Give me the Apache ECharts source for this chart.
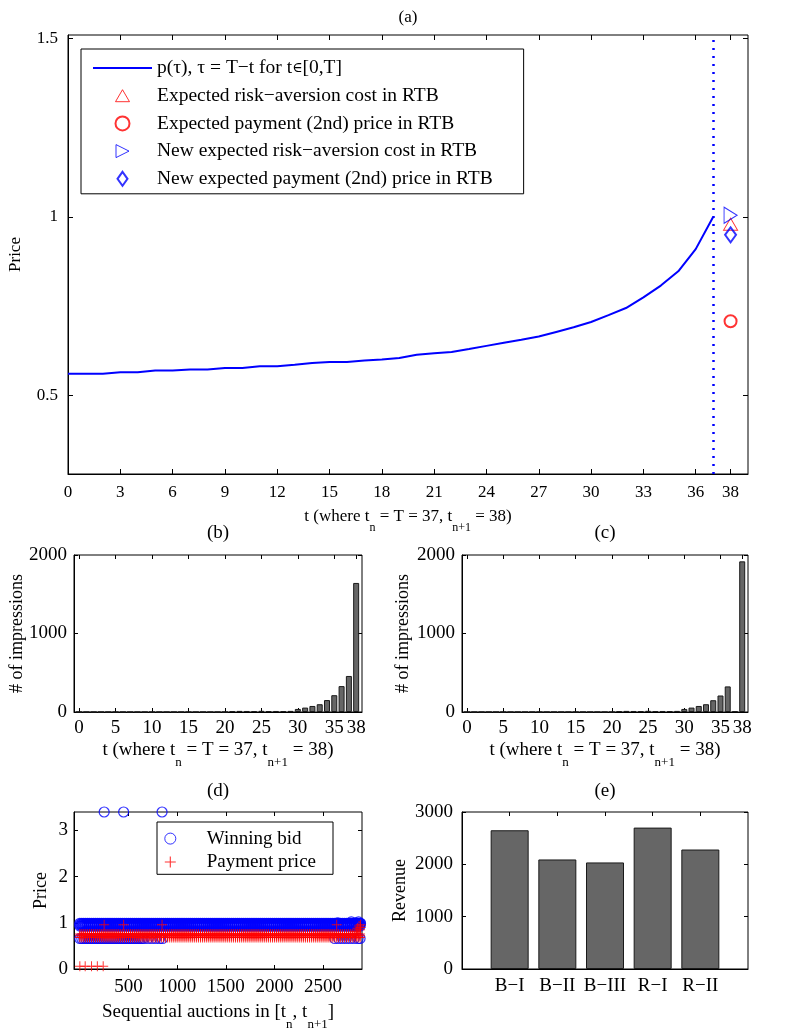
<!DOCTYPE html>
<html>
<head>
<meta charset="utf-8">
<title>RTB price, impressions and revenue</title>
<script src="https://cdn.jsdelivr.net/npm/echarts@6/dist/echarts.min.js"></script>
<style>
    html, body { margin: 0; padding: 0; background: #fff; }
    #main { width: 789px; height: 1029px; }
</style>
</head>
<body>
<div id="main"></div>
<script>
// ---- (a) price curve p(tau) and expected prices at t = 38 ----
var tCurve = [0, 1, 2, 3, 4, 5, 6, 7, 8, 9, 10, 11, 12, 13, 14, 15, 16, 17, 18,
    19, 20, 21, 22, 23, 24, 25, 26, 27, 28, 29, 30, 31, 32, 33, 34, 35, 36, 37];
var priceCurve = [0.561, 0.561, 0.561, 0.565, 0.565, 0.570, 0.570, 0.573, 0.573, 0.577,
    0.577, 0.582, 0.582, 0.586, 0.591, 0.594, 0.594, 0.598, 0.601, 0.605,
    0.614, 0.618, 0.622, 0.630, 0.639, 0.648, 0.656, 0.665, 0.678, 0.691,
    0.706, 0.725, 0.745, 0.775, 0.808, 0.848, 0.910, 1.000];
var tNext = 38;
var tLast = 37;
var riskCost = 0.98;
var paymentPrice = 0.708;
var newRiskCost = 1.005;
var newPaymentPrice = 0.95;
var ticksAx = [0, 3, 6, 9, 12, 15, 18, 21, 24, 27, 30, 33, 36, 38];
var ticksAy = [0.5, 1, 1.5];

// ---- (b), (c) number of impressions per t ----
var tBins = [0, 1, 2, 3, 4, 5, 6, 7, 8, 9, 10, 11, 12, 13, 14, 15, 16, 17, 18, 19,
    20, 21, 22, 23, 24, 25, 26, 27, 28, 29, 30, 31, 32, 33, 34, 35, 36, 37, 38];
var impressionsB = [0, 0, 0, 0, 0, 0, 0, 0, 0, 0, 0, 0, 0, 0, 0, 0, 0, 0, 0, 0, 0,
    12, 14, 13, 12, 15, 12, 13, 12, 14, 39, 56, 77, 99, 152, 214, 330, 459, 1644];
var impressionsC = [0, 0, 0, 0, 0, 0, 0, 0, 0, 0, 0, 0, 0, 0, 0, 0, 0, 0, 0, 0, 0,
    12, 14, 13, 12, 15, 12, 13, 12, 14, 39, 56, 77, 99, 150, 210, 326, 10, 1919];
var ticksBx = [0, 5, 10, 15, 20, 25, 30, 35, 38];
var ticksBy = [0, 1000, 2000];

// ---- (d) sequential auctions (dense band sampled along the x axis) ----
var auctionX = [0, 20, 40, 60, 80, 100, 120, 140, 160, 180, 200, 220, 240, 260, 280,
    300, 320, 340, 360, 380, 400, 420, 440, 460, 480, 500, 520, 540, 560, 580,
    600, 620, 640, 660, 680, 700, 720, 740, 760, 780, 800, 820, 840, 860, 880,
    900, 920, 940, 960, 980, 1000, 1020, 1040, 1060, 1080, 1100, 1120, 1140, 1160, 1180,
    1200, 1220, 1240, 1260, 1280, 1300, 1320, 1340, 1360, 1380, 1400, 1420, 1440, 1460, 1480,
    1500, 1520, 1540, 1560, 1580, 1600, 1620, 1640, 1660, 1680, 1700, 1720, 1740, 1760, 1780,
    1800, 1820, 1840, 1860, 1880, 1900, 1920, 1940, 1960, 1980, 2000, 2020, 2040, 2060, 2080,
    2100, 2120, 2140, 2160, 2180, 2200, 2220, 2240, 2260, 2280, 2300, 2320, 2340, 2360, 2380,
    2400, 2420, 2440, 2460, 2480, 2500, 2520, 2540, 2560, 2580, 2600, 2620, 2640, 2660, 2680,
    2700, 2720, 2740, 2760, 2780, 2800, 2820, 2840, 2860, 2880];
var bidLevels = [0.93, 0.96, 0.99];
var bidLowX = [0, 20, 40, 60, 80, 100, 120, 140, 160, 180, 200, 220, 240, 260, 280, 300,
    320, 340, 360, 380, 400, 420, 440, 460, 480, 500, 520, 540, 560, 580, 600, 620, 640,
    660, 700, 740, 780, 820, 850, 2620, 2660, 2700, 2740, 2780, 2820, 2860, 2880];
var bidLow = 0.66;
var bidTopX = [250, 450, 845];
var bidTop = 3.4;
var bidRight = [[2650, 1.0], [2790, 1.02], [2835, 1.0], [2865, 1.02], [2885, 0.99]];
var payLevels = [0.68, 0.72, 0.76];
var payHighX = [250, 450, 845, 2640, 2885];
var payHigh = 0.96;
var payLowX = [0, 55, 120, 180, 240];
var payLow = 0.06;
var payRight = [[2840, 0.82], [2855, 0.88], [2870, 0.93], [2880, 0.85], [2885, 0.9]];
var ticksDx = [500, 1000, 1500, 2000, 2500];
var ticksDy = [0, 1, 2, 3];

// ---- (e) revenue ----
var revenueNames = ['B\u2212I', 'B\u2212II', 'B\u2212III', 'R\u2212I', 'R\u2212II'];
var revenue = [2651, 2093, 2036, 2702, 2283];
var ticksEx = [1, 2, 3, 4, 5];
var ticksEy = [0, 1000, 2000, 3000];

var FONT = 'Liberation Serif';
var L1 = 'p(\u03c4), \u03c4 = T\u2212t for t\u2208[0,T]';
var L2 = 'Expected risk\u2212aversion cost in RTB';
var L3 = 'Expected payment (2nd) price in RTB';
var L4 = 'New expected risk\u2212aversion cost in RTB';
var L5 = 'New expected payment (2nd) price in RTB';

function pairs(xs, ys) {
    return xs.map(function (x, i) { return [x, ys[i]]; });
}
function row(xs, y) {
    return xs.map(function (x) { return [x, y]; });
}
function plain(v) { return String(v); }

function nameStyle(size, sub) {
    var s = { fontFamily: FONT, fontSize: size, color: '#000' };
    if (sub) {
        var ss = Math.round(size * 0.7);
        s.lineHeight = size * 2;
        s.rich = { s: { fontFamily: FONT, fontSize: ss, lineHeight: ss, verticalAlign: 'bottom', color: '#000' } };
    }
    return s;
}

// one value axis; bottom/left carry labels, top/right only ticks (box like matlab)
function axis(gi, pos, min, max, ticks, o) {
    o = o || {};
    var main = pos === 'bottom' || pos === 'left';
    var a = {
        gridIndex: gi, type: 'value', position: pos, min: min, max: max,
        axisLine: { show: main, onZero: false, lineStyle: { color: '#000', width: 1 } },
        axisTick: { show: true, inside: true, length: o.tick || 4, customValues: ticks, lineStyle: { color: '#000' } },
        axisLabel: {
            show: main, customValues: ticks, margin: o.margin || 8, color: '#000',
            fontFamily: FONT, fontSize: o.fontSize || 19, formatter: o.formatter || plain
        },
        splitLine: { show: false }
    };
    if (o.name) {
        a.name = o.name;
        a.nameLocation = 'middle';
        a.nameGap = o.nameGap;
        a.nameMoveOverlap = false;
        a.nameTextStyle = nameStyle(o.nameSize || 19, o.sub);
    }
    return a;
}

var xAxes = [
    axis(0, 'bottom', 0, 39, ticksAx, { fontSize: 17, margin: 10, tick: 5, name: 't (where t{s|n} = T = 37, t{s|n+1} = 38)', nameGap: 26, nameSize: 17, sub: true }),
    axis(0, 'top', 0, 39, ticksAx, { tick: 5, name: '(a)', nameGap: 9, nameSize: 17 }),
    axis(1, 'bottom', -0.7, 38.8, ticksBx, { margin: 7, name: 't (where t{s|n} = T = 37, t{s|n+1} = 38)', nameGap: 19, sub: true }),
    axis(1, 'top', -0.7, 38.8, ticksBx, { name: '(b)', nameGap: 12 }),
    axis(2, 'bottom', -0.7, 38.8, ticksBx, { margin: 7, name: 't (where t{s|n} = T = 37, t{s|n+1} = 38)', nameGap: 19, sub: true }),
    axis(2, 'top', -0.7, 38.8, ticksBx, { name: '(c)', nameGap: 12 }),
    axis(3, 'bottom', -60, 2900, ticksDx, { margin: 9, name: 'Sequential auctions in [t{s|n}, t{s|n+1}]', nameGap: 24, sub: true }),
    axis(3, 'top', -60, 2900, ticksDx, { name: '(d)', nameGap: 11 }),
    axis(4, 'bottom', 0, 6, ticksEx, { margin: 8, formatter: function (v) { return revenueNames[Math.round(v) - 1]; } }),
    axis(4, 'top', 0, 6, ticksEx, { name: '(e)', nameGap: 11 })
];
var yAxes = [
    axis(0, 'left', 0.28, 1.51, ticksAy, { fontSize: 17, margin: 10, tick: 5, name: 'Price', nameGap: 44, nameSize: 17 }),
    axis(0, 'right', 0.28, 1.51, ticksAy, { tick: 5 }),
    axis(1, 'left', 0, 2000, ticksBy, { margin: 7, name: '# of impressions', nameGap: 48, nameSize: 18 }),
    axis(1, 'right', 0, 2000, ticksBy, {}),
    axis(2, 'left', 0, 2000, ticksBy, { margin: 7, name: '# of impressions', nameGap: 50, nameSize: 18 }),
    axis(2, 'right', 0, 2000, ticksBy, {}),
    axis(3, 'left', 0, 3.4, ticksDy, { margin: 6, name: 'Price', nameGap: 24, nameSize: 18 }),
    axis(3, 'right', 0, 3.4, ticksDy, {}),
    axis(4, 'left', 0, 3000, ticksEy, { margin: 9, name: 'Revenue', nameGap: 53, nameSize: 18 }),
    axis(4, 'right', 0, 3000, ticksEy, {})
];

// fixed plot boxes; outerBoundsMode none keeps names near the page edge from shrinking them
var box = { show: true, borderColor: '#000', borderWidth: 1, backgroundColor: 'transparent', outerBoundsMode: 'none', containLabel: false };
var grids = [
    Object.assign({ left: 68, top: 35, width: 680, height: 439 }, box),
    Object.assign({ left: 74, top: 555, width: 288, height: 157 }, box),
    Object.assign({ left: 462, top: 555, width: 286, height: 157 }, box),
    Object.assign({ left: 74, top: 812, width: 288, height: 157 }, box),
    Object.assign({ left: 462, top: 812, width: 286, height: 157 }, box)
];

var crossPath = 'path://M4.5,0H5.5V10H4.5ZM0,4.5H10V5.5H0Z';
// legend icons drawn inside a fixed 59x14 box (the two moves pin the box size)
var pin = 'M0,0M59,14';
var lineIcon = 'path://' + pin + 'M0,6H59V8H0Z';
var triUpIcon = 'path://' + pin + 'M22.5,13L29.5,1L36.5,13Z';
var triRightIcon = 'path://' + pin + 'M23,0.5L36,7L23,13.5Z';
var diamondIcon = 'path://' + pin + 'M29.5,0L34.5,7L29.5,14L24.5,7Z';
var hollowBlue = { color: 'rgba(0,0,0,0)', borderColor: '#0000ff', borderWidth: 1.2 };
var barStyle = { color: '#666666', borderColor: '#1a1a1a', borderWidth: 1 };

var bidData = [];
bidLevels.forEach(function (y) { bidData = bidData.concat(row(auctionX, y)); });
bidData = bidData.concat(row(bidLowX, bidLow), row(bidTopX, bidTop), bidRight);
var payData = [];
payLevels.forEach(function (y) { payData = payData.concat(row(auctionX, y)); });
payData = payData.concat(row(payHighX, payHigh), row(payLowX, payLow), payRight);

var chart = echarts.init(document.getElementById('main'));
var option = {
    animation: false,
    backgroundColor: '#fff',
    textStyle: { fontFamily: FONT },
    grid: grids,
    xAxis: xAxes,
    yAxis: yAxes,
    legend: [
        {
            orient: 'vertical', left: 81, top: 49,
            padding: [9, 31, 5, 11], itemWidth: 59, itemHeight: 14, itemGap: 7.7,
            backgroundColor: '#fff', borderColor: '#000', borderWidth: 1, borderRadius: 0,
            selectedMode: false, symbolKeepAspect: true, symbolRotate: 0,
            formatter: function (name) { return name.replace('\u2208', '{e|\u2208}'); },
            textStyle: {
                fontFamily: FONT, fontSize: 19.5, color: '#000', lineHeight: 20,
                rich: { e: { fontFamily: 'DejaVu Serif', fontSize: 14, color: '#000' } }
            },
            data: [
                { name: L1, icon: lineIcon },
                { name: L2, icon: triUpIcon, itemStyle: { borderWidth: 1 } },
                { name: L3, itemStyle: { borderWidth: 2 } },
                { name: L4, icon: triRightIcon, itemStyle: { borderWidth: 1 } },
                { name: L5, icon: diamondIcon, itemStyle: { borderWidth: 2 } }
            ]
        },
        {
            orient: 'vertical', left: 157, top: 822,
            padding: [6.6, 17, 2.3, 7.3], itemWidth: 63, itemHeight: 11, itemGap: 3.4,
            backgroundColor: '#fff', borderColor: '#000', borderWidth: 1, borderRadius: 0,
            selectedMode: false, symbolKeepAspect: true,
            textStyle: { fontFamily: FONT, fontSize: 19, color: '#000', lineHeight: 20 },
            data: [
                { name: 'Winning bid', itemStyle: { borderWidth: 1 } },
                { name: 'Payment price' }
            ]
        }
    ],
    series: [
        {
            name: L1, type: 'line', xAxisIndex: 0, yAxisIndex: 0,
            data: pairs(tCurve, priceCurve), symbol: 'none',
            lineStyle: { color: '#0000ff', width: 2 }, itemStyle: { color: '#0000ff' },
            markLine: {
                silent: true, symbol: ['none', 'none'], label: { show: false },
                lineStyle: { color: '#0000ff', width: 2.5, type: [2, 6] },
                data: [{ xAxis: tLast }]
            }
        },
        {
            name: L2, type: 'scatter', xAxisIndex: 0, yAxisIndex: 0,
            data: [[tNext, riskCost]], symbol: 'triangle', symbolSize: [14, 12],
            itemStyle: { color: 'rgba(0,0,0,0)', borderColor: '#ff0000', borderWidth: 1 }
        },
        {
            name: L3, type: 'scatter', xAxisIndex: 0, yAxisIndex: 0,
            data: [[tNext, paymentPrice]], symbol: 'circle', symbolSize: 12,
            itemStyle: { color: 'rgba(0,0,0,0)', borderColor: '#ff0000', borderWidth: 2 }
        },
        {
            name: L4, type: 'scatter', xAxisIndex: 0, yAxisIndex: 0,
            data: [[tNext, newRiskCost]], symbol: 'triangle', symbolSize: [16, 13], symbolRotate: -90,
            itemStyle: { color: 'rgba(0,0,0,0)', borderColor: '#0000ff', borderWidth: 1 }
        },
        {
            name: L5, type: 'scatter', xAxisIndex: 0, yAxisIndex: 0,
            data: [[tNext, newPaymentPrice]], symbol: 'diamond', symbolSize: [11, 15],
            itemStyle: { color: 'rgba(0,0,0,0)', borderColor: '#0000ff', borderWidth: 2 }
        },
        {
            name: 'impressions (b)', type: 'bar', xAxisIndex: 2, yAxisIndex: 2,
            data: pairs(tBins, impressionsB), barWidth: 6, itemStyle: barStyle
        },
        {
            name: 'impressions (c)', type: 'bar', xAxisIndex: 4, yAxisIndex: 4,
            data: pairs(tBins, impressionsC), barWidth: 6, itemStyle: barStyle
        },
        {
            name: 'Winning bid', type: 'scatter', xAxisIndex: 6, yAxisIndex: 6,
            data: bidData, symbol: 'circle', symbolSize: 10, itemStyle: hollowBlue
        },
        {
            name: 'Payment price', type: 'scatter', xAxisIndex: 6, yAxisIndex: 6,
            data: payData, symbol: crossPath, symbolSize: 10, itemStyle: { color: '#ff0000' }
        },
        {
            name: 'Revenue', type: 'bar', xAxisIndex: 8, yAxisIndex: 8,
            data: pairs(ticksEx, revenue), barWidth: 38, itemStyle: barStyle
        }
    ]
};
chart.setOption(option);
</script>
</body>
</html>
